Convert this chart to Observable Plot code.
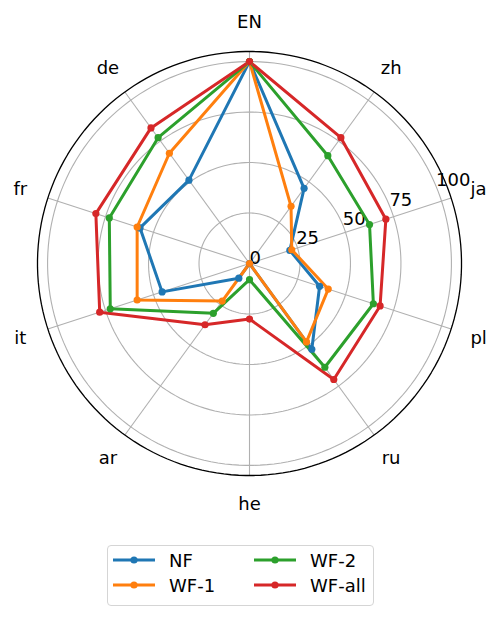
<!DOCTYPE html>
<html>
<head>
<meta charset="utf-8">
<script src="https://cdn.jsdelivr.net/npm/d3@7"></script>
<script src="https://cdn.jsdelivr.net/npm/@observablehq/plot@0.6"></script>
<style>
  body { margin: 0; background: #fff; font-family: "DejaVu Sans", sans-serif; }
  #chart { width: 499px; height: 530px; }
  #legend {
    position: relative; margin-left: 107px; margin-top: 15px; width: 267px; height: 61px;
    border: 1.5px solid #d5d5d5; border-radius: 4px; box-sizing: border-box;
    font-size: 18px; color: #000;
  }
  .item { position: absolute; display: flex; align-items: center; height: 24px; white-space: nowrap; }
  .item svg { margin-right: 14px; }
</style>
</head>
<body>
<div id="chart"></div>
<div id="legend"></div>
<script>
const categories = ["EN", "zh", "ja", "pl", "ru", "he", "ar", "it", "fr", "de"];
const seriesNames = ["NF", "WF-1", "WF-2", "WF-all"];
const colors = ["#1f77b4", "#ff7f0e", "#2ca02c", "#d62728"];
const NF    = [100, 46, 21, 36.5, 52.5, 0, 9, 45.5, 57, 51];
const WF1   = [100, 35, 22, 41, 48, 0, 23, 58.5, 58.5, 67.5];
const WF2   = [100, 66, 62.5, 64.5, 63.5, 8, 30.5, 72.5, 73, 77];
const WFall = [100, 77, 71, 68, 71, 27.5, 37.5, 78, 80, 83];
const radialTicks = [0, 25, 50, 75, 100];
const rMax = 105;

try {
const seriesValues = [NF, WF1, WF2, WFall];
const points = [];
seriesValues.forEach((vals, s) => {
  vals.forEach((v, i) => points.push({name: seriesNames[s], key: categories[i], value: v}));
});

// clockwise angle from top -> projection longitude
const lon = (key) => 180 - categories.indexOf(key) * 360 / categories.length;
const lat = (v) => 90 - v / 100;

const plot = Plot.plot({
  width: 499,
  height: 530,
  marginLeft: 37, marginRight: 38, marginTop: 51, marginBottom: 55,
  projection: {
    type: "azimuthal-equidistant",
    rotate: [0, -90],
    clip: false,
    domain: d3.geoCircle().center([0, 90]).radius(rMax / 100)()
  },
  color: {domain: seriesNames, range: colors},
  style: {fontFamily: "DejaVu Sans, sans-serif", fontSize: "18px", background: "white"},
  marks: [
    Plot.geo(radialTicks.filter(d => d > 0), {
      geometry: (r) => d3.geoCircle().center([0, 90]).radius(r / 100)(),
      stroke: "#b0b0b0", strokeWidth: 1.1, fill: "none"
    }),
    Plot.link(categories, {
      x1: (d) => lon(d), y1: 90, x2: (d) => lon(d), y2: lat(rMax),
      stroke: "#b0b0b0", strokeWidth: 1.1
    }),
    Plot.geo([rMax], {
      geometry: (r) => d3.geoCircle().center([0, 90]).radius(r / 100)(),
      stroke: "black", strokeWidth: 1.3, fill: "none"
    }),
    Plot.text(radialTicks, {
      x: 180 - 67.5, y: (d) => lat(d), text: (d) => String(d),
      textAnchor: "start", lineAnchor: "bottom", fontSize: 18, fill: "black"
    }),
    Plot.text(categories, {
      x: (d) => lon(d), y: lat(119.3), text: (d) => d,
      textAnchor: "middle", lineAnchor: "middle", fontSize: 18, fill: "black"
    }),
    ...seriesNames.map((name) => Plot.line(points.filter(p => p.name === name), {
      x: (d) => lon(d.key), y: (d) => lat(d.value),
      stroke: "name", strokeWidth: 3, curve: "linear-closed", strokeLinejoin: "round"
    })),
    ...seriesNames.map((name) => Plot.dot(points.filter(p => p.name === name), {
      x: (d) => lon(d.key), y: (d) => lat(d.value),
      fill: "name", r: 3.6
    }))
  ]
});

document.getElementById("chart").appendChild(plot);
} catch (e) {
  document.getElementById("chart").textContent = "ERR " + e;
}

const legend = document.getElementById("legend");
const pos = [[5, 2], [5, 27], [146, 2], [146, 27]];
seriesNames.forEach((name, i) => {
  const item = document.createElement("div");
  item.className = "item";
  item.style.left = pos[i][0] + "px";
  item.style.top = pos[i][1] + "px";
  item.innerHTML = '<svg width="42" height="10"><line x1="0" y1="5" x2="42" y2="5" stroke="' + colors[i] +
    '" stroke-width="3"/><circle cx="21" cy="5" r="3.6" fill="' + colors[i] + '"/></svg><span>' + name + '</span>';
  legend.appendChild(item);
});
</script>
</body>
</html>
